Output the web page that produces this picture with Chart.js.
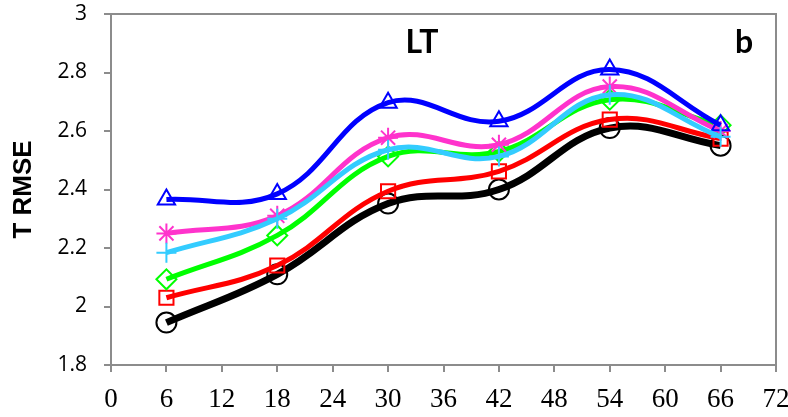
<!DOCTYPE html>
<html>
<head>
<meta charset="utf-8">
<script src="https://cdn.jsdelivr.net/npm/chart.js@4.4.0/dist/chart.umd.min.js"></script>
<style>
  body { margin: 0; background: #fff; }
  #wrap { width: 788px; height: 417px; position: relative; }
</style>
</head>
<body>
<div id="wrap"><canvas id="rmseChart"></canvas></div>
<script>
// lead times (h) and T RMSE per experiment
const leadTimes = [6, 18, 30, 42, 54, 66];
const blackRmse   = [1.945, 2.11, 2.352, 2.40, 2.61, 2.55];
const redRmse     = [2.03, 2.14, 2.394, 2.462, 2.639, 2.574];
const greenRmse   = [2.093, 2.243, 2.513, 2.53, 2.707, 2.62];
const cyanRmse    = [2.184, 2.30, 2.536, 2.513, 2.724, 2.58];
const magentaRmse = [2.25, 2.31, 2.577, 2.553, 2.752, 2.60];
const blueRmse    = [2.366, 2.385, 2.697, 2.633, 2.81, 2.62];
const xTicks = [0, 72, 6];       // min, max, step
const yTicks = [1.8, 3, 0.2];

const axisGrey = '#8c8c8c';

function series(values, color, style, width) {
    return {
        data: leadTimes.map((x, i) => ({ x: x, y: values[i] })),
        borderColor: color,
        borderWidth: width,
        pointStyle: style,
        pointRadius: 10,
        pointHoverRadius: 10,
        pointBorderColor: color,
        pointBorderWidth: 2,
        pointBackgroundColor: 'rgba(0,0,0,0)',
        tension: 0.4,
        fill: false
    };
}

// first dataset is painted last (on top)
const datasets = [
    series(cyanRmse, '#33CCFF', 'cross', 5),
    series(blueRmse, '#0000FF', 'triangle', 5),
    series(magentaRmse, '#FF33CC', 'star', 5),
    series(greenRmse, '#00FF00', 'rectRot', 5),
    series(redRmse, '#FF0000', 'rect', 5),
    series(blackRmse, '#000000', 'circle', 7)
];

// frame around the plot plus the "LT" / "b" labels
const extras = {
    id: 'extras',
    afterDraw(chart) {
        const ctx = chart.ctx, a = chart.chartArea;
        ctx.save();
        ctx.strokeStyle = axisGrey;
        ctx.lineWidth = 2;
        ctx.beginPath();
        ctx.moveTo(a.left, a.top);
        ctx.lineTo(a.right, a.top);
        ctx.lineTo(a.right, a.bottom);
        ctx.stroke();
        ctx.fillStyle = '#000';
        ctx.font = 'bold 32px Lato, "Liberation Sans", sans-serif';
        ctx.textBaseline = 'alphabetic';
        ctx.textAlign = 'center';
        ctx.fillText('LT', 422, 53);
        ctx.fillText('b', 744, 53);
        ctx.restore();
    }
};

new Chart(document.getElementById('rmseChart'), {
    type: 'line',
    data: { datasets: datasets },
    plugins: [extras],
    options: {
        responsive: true,
        maintainAspectRatio: false,
        animation: false,
        layout: { padding: { top: 14, right: 12, left: 0, bottom: 0 } },
        plugins: { legend: { display: false }, tooltip: { enabled: false } },
        scales: {
            x: {
                type: 'linear',
                min: xTicks[0], max: xTicks[1],
                ticks: {
                    stepSize: xTicks[2],
                    color: '#000',
                    padding: 12,
                    maxRotation: 0,
                    font: { family: '"Liberation Serif", "DejaVu Serif", serif', size: 27 }
                },
                grid: { drawOnChartArea: false, tickLength: 7, color: axisGrey, lineWidth: 2 },
                border: { color: axisGrey, width: 2 },
                afterFit(scale) {
                    scale.height = 52;
                    scale.paddingLeft = 0;
                    scale.paddingRight = 0;
                }
            },
            y: {
                min: yTicks[0], max: yTicks[1],
                ticks: {
                    stepSize: yTicks[2],
                    color: '#000',
                    padding: 17,
                    font: { family: '"Open Sans", Lato, sans-serif', size: 21 },
                    callback: v => String(+v.toFixed(1))
                },
                grid: { drawOnChartArea: false, tickLength: 7, color: axisGrey, lineWidth: 2 },
                border: { color: axisGrey, width: 2 },
                title: {
                    display: true,
                    text: 'T RMSE',
                    color: '#000',
                    padding: { top: 8, bottom: 0 },
                    font: { family: '"Liberation Sans", Arial, sans-serif', size: 26, weight: 'bold' }
                },
                afterFit(scale) {
                    scale.width = 111;
                    scale.paddingTop = 0;
                    scale.paddingBottom = 0;
                }
            }
        }
    }
});
</script>
</body>
</html>
